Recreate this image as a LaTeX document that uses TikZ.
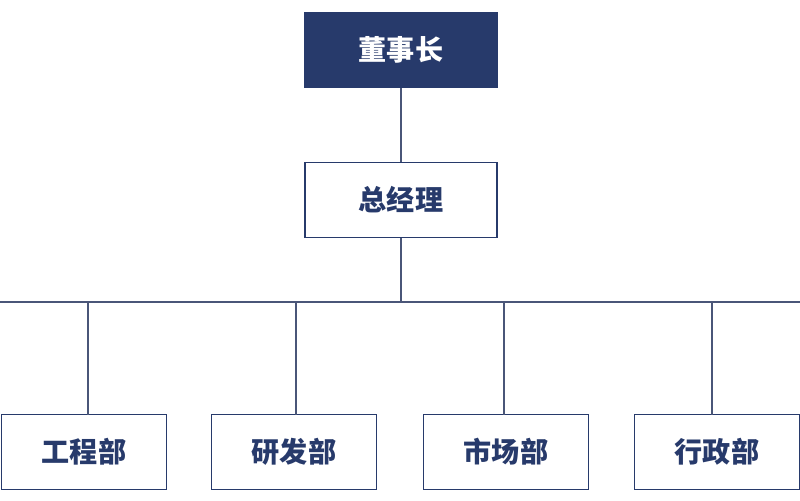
\documentclass[tikz,border=0pt]{standalone}
\usepackage{fontspec}
\newfontfamily\cjk{Noto Sans CJK SC}
\definecolor{navy}{HTML}{273A6B}
\definecolor{edge}{HTML}{4A5678}
\begin{document}
\begin{tikzpicture}[x=0.02cm,y=-0.02cm,
    unit/.style={draw=navy, line width=1pt, minimum width=3.3cm, minimum height=1.5cm, inner sep=0pt, font=\cjk\bfseries\fontsize{16}{16}\selectfont, text=navy},
    head/.style={unit, fill=navy, text=white, minimum width=3.84cm},
    link/.style={draw=edge, line width=0.8pt}]
    \useasboundingbox (0,0) rectangle (800,500);

    % top
    \node[head] (chair) at (401,50) {董事长};
    \node[unit, minimum width=3.84cm] (gm) at (401,200) {总经理};

    % departments
    \node[unit] (eng) at (84,452) {工程部};
    \node[unit] (rnd) at (294,452) {研发部};
    \node[unit] (mkt) at (506,452) {市场部};
    \node[unit] (adm) at (717,452) {行政部};

    % bus
    \coordinate (busL) at (0,302);
    \coordinate (busR) at (800,302);
    \coordinate (busM) at (401,302);

    \draw[link] (chair) -- (gm);
    \draw[link] (gm) -- (busM);
    \draw[link] (busL) -- (busR);
    \foreach \d/\x in {eng/88, rnd/296, mkt/504, adm/712}
        \draw[link] (\x,302) -- (\x,415);
\end{tikzpicture}
\end{document}
